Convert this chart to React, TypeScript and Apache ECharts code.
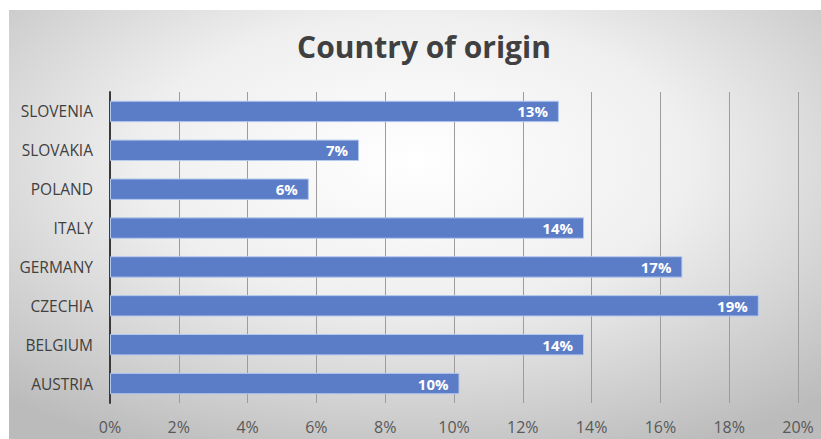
import React, { useEffect, useRef } from "react";
import * as echarts from "echarts";

const categories = ["AUSTRIA", "BELGIUM", "CZECHIA", "GERMANY", "ITALY", "POLAND", "SLOVAKIA", "SLOVENIA"];
const shares = [10.16, 13.78, 18.86, 16.64, 13.78, 5.78, 7.24, 13.05];
const xTicks = { min: 0, max: 20, interval: 2 };
const title = "Country of origin";

export default function App() {
  const ref = useRef<HTMLDivElement>(null);
  useEffect(() => {
    const chart = echarts.init(ref.current!, null, { renderer: "svg" });
    chart.setOption({
      animation: false,
      backgroundColor: "#ffffff",
      graphic: [
        {
          type: "rect",
          z: -10,
          silent: true,
          shape: { x: 9, y: 10, width: 812, height: 429 },
          style: {
            fill: new echarts.graphic.RadialGradient(0.5, 0.35, 0.75, [
              { offset: 0, color: "#ffffff" },
              { offset: 0.45, color: "#efefef" },
              { offset: 1, color: "#bbbbbb" },
            ]),
          },
        },
      ],
      title: {
        text: title,
        left: 419,
        textAlign: "center",
        top: 26,
        textStyle: {
          fontFamily: "Open Sans",
          fontWeight: "bold",
          fontSize: 30,
          color: "#404040",
        },
      },
      grid: { left: 110, right: 23, top: 92, bottom: 36, containLabel: false },
      xAxis: {
        type: "value",
        min: xTicks.min,
        max: xTicks.max,
        interval: xTicks.interval,
        axisLine: { show: false },
        axisTick: { show: false },
        axisLabel: {
          formatter: (v: number) => `${v}%`,
          fontFamily: "Open Sans",
          fontSize: 16,
          color: "#595959",
          margin: 16,
        },
        splitLine: { show: true, lineStyle: { color: "#9c9c9c", width: 1 } },
      },
      yAxis: {
        type: "category",
        data: categories,
        axisLine: { show: true, lineStyle: { color: "#3a3a3a", width: 2 } },
        axisTick: { show: false },
        axisLabel: {
          fontFamily: "Open Sans",
          fontSize: 15.5,
          color: "#404040",
          margin: 17,
        },
        splitLine: { show: false },
      },
      series: [
        {
          type: "bar",
          data: shares,
          barCategoryGap: "45%",
          itemStyle: { color: "#5b7cc7", borderColor: "#b5c8ee", borderWidth: 1 },
          label: {
            show: true,
            position: "insideRight",
            distance: 11,
            formatter: (p: any) => `${Math.round(p.value)}%`,
            fontFamily: "Open Sans",
            fontWeight: "bold",
            fontSize: 15,
            color: "#ffffff",
          },
        },
      ],
    });
    return () => chart.dispose();
  }, []);
  return <div ref={ref} style={{ position: "fixed", left: 0, top: 0, width: 821, height: 439 }} />;
}
